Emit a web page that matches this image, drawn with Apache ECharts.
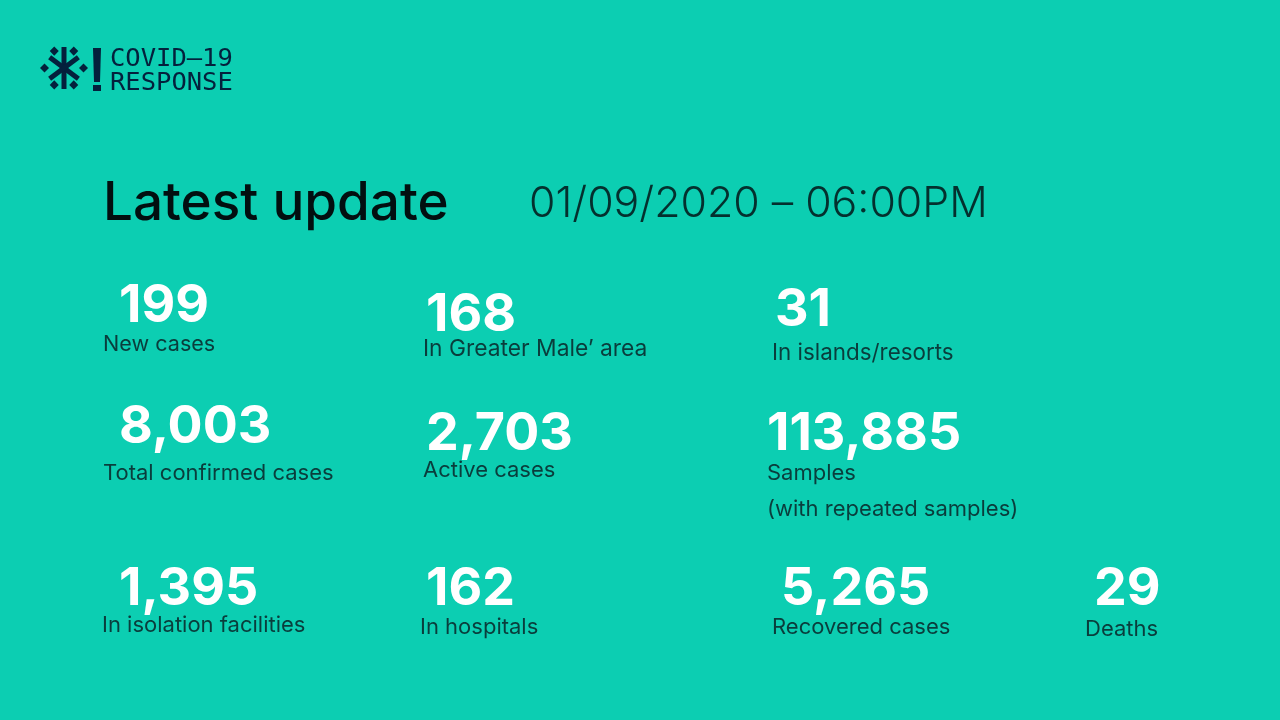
<!DOCTYPE html>
<html>

<head>
    <meta charset="utf-8" />
    <title>Latest update</title>
    <style type="text/css">
        html,
        body {
            margin: 0;
            padding: 0;
            height: 100%;
            background: #0cceb2;
        }

        #container {
            width: 1280px;
            height: 720px;
        }
    </style>
    <script src="https://cdn.jsdelivr.net/npm/echarts@6/dist/echarts.min.js"></script>
</head>

<body>
    <div id="container"></div>
    <script type="text/javascript">
        var logoLines = ['COVID–19', 'RESPONSE'];
        var heading = 'Latest update';
        var updated = '01/09/2020 – 06:00PM';

        var figures = ['199', '168', '31', '8,003', '2,703', '113,885', '1,395', '162', '5,265', '29'];
        var captions = ['New cases', 'In Greater Male’ area', 'In islands/resorts', 'Total confirmed cases',
            'Active cases', 'Samples', 'In isolation facilities', 'In hospitals', 'Recovered cases', 'Deaths'];
        var captionNote = '(with repeated samples)';

        // left edge and vertical middle of each figure / caption
        var figureX = [119, 426, 775, 119, 426, 767, 119, 426, 781, 1094];
        var figureY = [306, 315, 310, 427, 434, 434, 589, 589, 589, 589];
        var captionX = [103, 423, 772, 103, 423, 767, 102, 420, 772, 1085];
        var captionY = [344, 349, 353, 473, 470, 473, 625, 627, 627, 629];
        var captionSize = [21.6, 22.8, 22.4, 22, 22, 22, 22, 22, 22, 22];

        var ink = '#04203c';
        var elements = [];

        function addText(x, y, text, size, weight, color, family) {
            elements.push({
                type: 'text',
                style: {
                    x: x, y: y, text: text,
                    font: weight + ' ' + size + 'px ' + (family || 'Inter'),
                    fill: color,
                    textAlign: 'left',
                    textVerticalAlign: 'middle'
                }
            });
        }

        // logo mark
        [90, 37, 143].forEach(function (a) {
            var r = a * Math.PI / 180;
            var len = a === 90 ? 21 : 18;
            elements.push({
                type: 'line',
                shape: {
                    x1: 64 - len * Math.cos(r), y1: 68 - len * Math.sin(r),
                    x2: 64 + len * Math.cos(r), y2: 68 + len * Math.sin(r)
                },
                style: { stroke: ink, lineWidth: 5 }
            });
        });
        [0, 60, 120, 180, 240, 300].forEach(function (a) {
            var r = a * Math.PI / 180;
            elements.push({
                type: 'rect',
                x: 64 + 19.5 * Math.cos(r), y: 68 + 19.5 * Math.sin(r),
                rotation: Math.PI / 4,
                shape: { x: -3.2, y: -3.2, width: 6.4, height: 6.4 },
                style: { fill: ink }
            });
        });
        elements.push({ type: 'polygon', shape: { points: [[93, 48], [101, 48], [100, 82], [94, 82]] }, style: { fill: ink } });
        elements.push({ type: 'rect', shape: { x: 93, y: 85, width: 8, height: 6 }, style: { fill: ink } });

        addText(110, 59, logoLines[0], 25.5, 400, ink, '"DejaVu Sans Mono"');
        addText(110, 83, logoLines[1], 25.5, 400, ink, '"DejaVu Sans Mono"');

        addText(103, 204, heading, 53, 500, '#020f10');
        addText(529, 204, updated, 42.8, 300, '#04302e');

        figures.forEach(function (v, i) {
            addText(figureX[i], figureY[i], v, 52, 700, '#ffffff');
            addText(captionX[i], captionY[i], captions[i], captionSize[i], 400, '#0a3d3c');
        });
        addText(767, 509, captionNote, 22, 400, '#0a3d3c');

        var myChart = echarts.init(document.getElementById('container'), null, { renderer: 'canvas' });
        myChart.setOption({
            backgroundColor: '#0cceb2',
            animation: false,
            graphic: { elements: elements }
        });
    </script>
</body>

</html>
